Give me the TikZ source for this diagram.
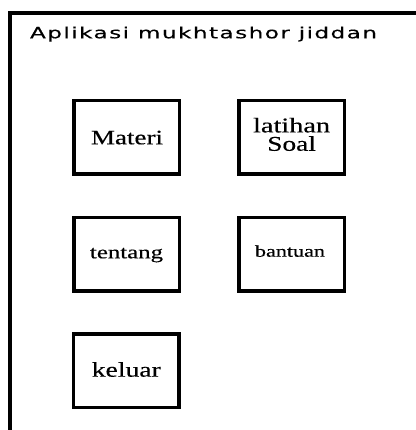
\documentclass[tikz,border=0pt]{standalone}
\usepackage{fontspec}
\usepackage{graphicx}
\setmainfont[FakeBold=0.35]{Liberation Serif}
\newfontfamily\titlefont[LetterSpace=6,FakeBold=0.2]{DejaVu Sans}
\tikzset{
  menubox/.style={draw=black, line width=3.5pt, minimum width=105.5pt, minimum height=73.5pt, inner sep=0pt},
  lbl/.style={anchor=base, inner sep=0pt, outer sep=0pt},
  frameline/.style={line width=4pt, line cap=rect}
}
\newcommand{\wtxt}[3]{\resizebox{#1pt}{\height}{\fontsize{#2pt}{#2pt}\selectfont #3}}
\begin{document}
\begin{tikzpicture}[x=1pt,y=-1pt]
\useasboundingbox (0,0) rectangle (415,430);
\coordinate (fb) at (10,432);
\coordinate (fc) at (10,13);
\coordinate (fr) at (417,13);
\draw[line width=4pt] (fb) -- (fc) -- (fr);
\node[lbl, anchor=base west] (title) at (30,38.3) {\resizebox{347pt}{\height}{\fontsize{15.5pt}{15.5pt}\titlefont Aplikasi mukhtashor jiddan}};
\node[menubox] (materi) at (126.5,137.5) {};
\node[menubox] (latihan) at (291.5,137.5) {};
\node[menubox] (tentang) at (126.5,254) {};
\node[menubox] (bantuan) at (291.5,254) {};
\node[menubox] (keluar) at (126.3,370.5) {};
\node[lbl] (materiT) at (127,144.3) {\wtxt{72}{20.5}{Materi}};
\node[inner sep=0pt, outer sep=0pt, align=center, font=\fontsize{21pt}{18.4pt}\selectfont] (latihanT) at (291.6,134.4) {\wtxt{77}{21}{latihan}\\\wtxt{48.7}{21}{Soal}};
\node[lbl] (tentangT) at (126.5,258.3) {\wtxt{73}{18.5}{tentang}};
\node[lbl] (bantuanT) at (290,256.7) {\wtxt{70}{16.5}{bantuan}};
\node[lbl] (keluarT) at (126.3,376.7) {\wtxt{69}{21}{keluar}};
\end{tikzpicture}
\end{document}
